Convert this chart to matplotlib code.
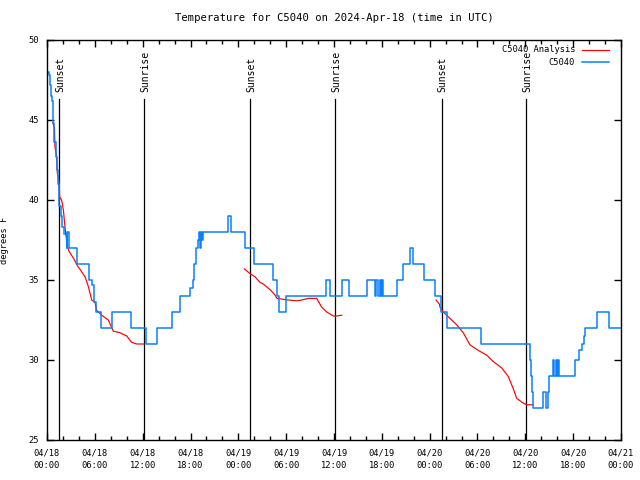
import matplotlib
matplotlib.use('Agg')
import matplotlib.pyplot as plt

# hours since 2024-04-18 00:00 UTC
obs_hours = [0.13, 0.25, 0.38, 0.54, 0.63, 0.72, 0.88, 1.09, 1.25, 1.44, 1.54, 1.76,
             1.94, 2.13, 2.47, 2.57, 2.70, 3.80, 5.31, 5.61, 5.90, 6.15, 6.74, 8.19,
             10.50, 12.42, 13.76, 15.64, 16.68, 17.94, 18.28, 18.44, 18.69, 18.88,
             19.07, 19.19, 19.32, 19.44, 19.61, 22.70, 23.02, 24.80, 25.97, 28.31,
             28.81, 29.10, 29.98, 35.00, 35.50, 36.97, 37.82, 40.08, 41.14, 41.33,
             41.52, 41.71, 41.90, 42.02, 42.19, 43.84, 44.66, 45.53, 45.85, 47.29,
             48.61, 49.36, 50.18, 54.38, 60.53, 60.65, 60.78, 60.96, 62.16, 62.53,
             62.85, 63.03, 63.41, 63.60, 63.79, 63.98, 64.10, 64.23, 66.23, 66.74,
             67.07, 67.30, 67.49, 69.03, 70.54, 72.0]
obs_temp = [48.0, 47.8, 47.2, 46.5, 46.2, 44.8, 43.6, 42.7, 41.9, 41.0, 39.6, 39.0,
            38.3, 37.9, 37.0, 38.0, 37.0, 36.0, 35.0, 34.7, 33.6, 33.0, 32.0, 33.0,
            32.0, 31.0, 32.0, 33.0, 34.0, 34.5, 35.0, 36.0, 37.0, 37.5,
            38.0, 37.0, 38.0, 37.5, 38.0, 39.0, 38.0, 37.0, 36.0, 35.0,
            34.0, 33.0, 34.0, 35.0, 34.0, 35.0, 34.0, 35.0, 34.0, 35.0,
            34.0, 35.0, 34.0, 35.0, 34.0, 35.0, 36.0, 37.0, 36.0, 35.0,
            34.0, 33.0, 32.0, 31.0, 30.0, 29.0, 28.0, 27.0, 28.0, 27.0,
            28.0, 29.0, 30.0, 29.0, 30.0, 29.0, 30.0, 29.0, 30.0, 30.6,
            31.0, 31.5, 32.0, 33.0, 32.0, 32.0]

# analysis, three runs
ana1_hours = [0.75, 0.94, 1.00, 1.19, 1.29, 1.51, 1.59, 1.82, 1.92, 2.07, 2.22, 2.35,
              2.55, 2.76, 3.39, 3.80, 4.23, 4.77, 5.18, 5.61, 6.02, 6.23, 6.86, 7.69,
              8.32, 9.16, 10.0, 10.62, 11.25, 12.17]
ana1_temp = [44.8, 44.5, 43.3, 42.8, 41.7, 41.2, 40.2, 40.0, 39.8, 39.3, 38.5, 37.9,
             37.1, 36.8, 36.3, 35.9, 35.6, 35.2, 34.6, 33.75, 33.6, 33.1, 32.8, 32.5,
             31.8, 31.7, 31.5, 31.1, 31.0, 31.0]
ana2_hours = [24.75, 25.46, 26.09, 26.72, 27.13, 27.97, 28.60, 28.85, 30.27, 31.32,
              31.95, 32.78, 33.83, 34.46, 35.09, 35.91, 36.34, 36.97]
ana2_temp = [35.7, 35.4, 35.2, 34.85, 34.75, 34.4, 34.06, 33.85, 33.75, 33.7,
             33.75, 33.85, 33.85, 33.3, 33.0, 32.75, 32.75, 32.8]
ana3_hours = [48.80, 49.21, 49.30, 49.71, 50.55, 51.39, 52.22, 53.06, 54.10, 55.16,
              55.98, 57.04, 57.87, 58.49, 58.92, 59.75, 60.17, 61.00]
ana3_temp = [33.75, 33.5, 33.3, 33.0, 32.6, 32.2, 31.7, 30.94, 30.6, 30.3,
             29.9, 29.5, 28.96, 28.2, 27.6, 27.3, 27.2, 27.2]

sun_hours = [1.55, 12.17, 25.5, 36.13, 49.5, 60.1]
sun_names = ['Sunset', 'Sunrise', 'Sunset', 'Sunrise', 'Sunset', 'Sunrise']

tick_dates = ['04/18', '04/18', '04/18', '04/18', '04/19', '04/19', '04/19',
              '04/19', '04/20', '04/20', '04/20', '04/20', '04/21']
tick_times = ['00:00', '06:00', '12:00', '18:00'] * 3 + ['00:00']

plt.rcParams['font.family'] = 'DejaVu Sans Mono'
plt.rcParams['font.size'] = 6.3

fig = plt.figure(figsize=(6.4, 4.8), dpi=100)
ax = fig.add_axes([47/640, 40/480, 574/640, 400/480])

red = '#ff0000'
blue = '#0a80ff'

for hx, name in zip(sun_hours, sun_names):
    ax.plot([hx, hx], [25, 46.3], color='black', lw=0.9)
    ax.text(hx + 0.15, 46.75, name, rotation=90, ha='center', va='bottom', fontsize=7)

ax.plot(ana1_hours, ana1_temp, color=red, lw=0.85)
ax.plot(ana2_hours, ana2_temp, color=red, lw=0.85)
ax.plot(ana3_hours, ana3_temp, color=red, lw=0.85)
ax.plot(obs_hours, obs_temp, color=blue, lw=1.1, drawstyle='steps-post')

ax.set_xlim(0, 72)
ax.set_ylim(25, 50)
ax.set_xticks(range(0, 73, 6))
ax.set_xticks(range(0, 73, 2), minor=True)
ax.set_xticklabels([d + '\n' + t for d, t in zip(tick_dates, tick_times)],
                   linespacing=1.5)
ax.set_yticks(range(25, 51, 5))
ax.tick_params(which='both', direction='in', top=True, right=True)
ax.tick_params(which='major', length=5, width=1)
ax.tick_params(which='minor', length=3, width=1)
ax.tick_params(axis='x', pad=6)
ax.tick_params(axis='y', pad=6)
for s in ax.spines.values():
    s.set_linewidth(1)

ax.set_ylabel('degrees F', labelpad=14)
ax.set_title('Temperature for C5040 on 2024-Apr-18 (time in UTC)', pad=14)

# legend, gnuplot style (text right-justified, sample after it)
legend_rows = [('C5040 Analysis', red, 0.85), ('C5040', blue, 1.1)]
for i, (lab, col, lw) in enumerate(legend_rows):
    yy = 0.975 - i * 0.031
    ax.text(0.92, yy, lab, transform=ax.transAxes, ha='right', va='center')
    ax.plot([0.932, 0.979], [yy, yy], transform=ax.transAxes, color=col, lw=lw)

fig.savefig('out.png', dpi=100)
